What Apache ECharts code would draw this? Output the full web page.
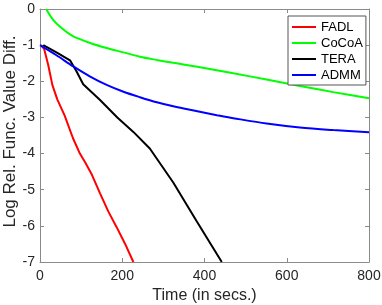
<!DOCTYPE html>
<html>
<head>
<meta charset="utf-8">
<script src="https://cdn.jsdelivr.net/npm/echarts@6/dist/echarts.min.js"></script>
<style>
html,body{margin:0;padding:0;background:#fff;}
#c{width:382px;height:305px;}
</style>
</head>
<body>
<div id="c"></div>
<script>
// Data (x: seconds, y: log rel. func. value diff.)
const seriesNames = ['FADL', 'CoCoA', 'TERA', 'ADMM'];
const fadl = [[2,-1],[10,-1.1],[20,-1.55],[30,-2.1],[42,-2.5],[60,-2.95],[80,-3.57],[97,-4.0],[110,-4.25],[126,-4.58],[146,-5.1],[166,-5.6],[187,-6.05],[207,-6.5],[227,-7]];
const cocoa = [[15,0],[32,-0.3],[57,-0.57],[81,-0.76],[122,-0.94],[162,-1.08],[203,-1.2],[243,-1.32],[284,-1.41],[324,-1.49],[389,-1.61],[470,-1.78],[551,-1.95],[632,-2.13],[713,-2.3],[800,-2.47]];
const tera = [[8,-1],[40,-1.2],[73,-1.42],[89,-1.73],[105,-2.08],[146,-2.52],[188,-3.0],[227,-3.4],[267,-3.86],[324,-4.8],[381,-5.87],[442,-7]];
const admm = [[0,-1],[40,-1.28],[81,-1.59],[122,-1.87],[162,-2.1],[203,-2.29],[243,-2.44],[284,-2.58],[324,-2.69],[365,-2.79],[430,-2.94],[470,-3.02],[551,-3.17],[632,-3.28],[713,-3.35],[800,-3.41]];
const xTicks = {min: 0, max: 800, interval: 200};
const yTicks = {min: -7, max: 0, interval: 1};
const xName = 'Time (in secs.)';
const yName = 'Log Rel. Func. Value Diff.';

const axisGray = '#8a8a8a';
const labelColor = '#262626';
const fontFam = 'Liberation Sans, Arial, sans-serif';

function xAx(pos, show) {
  return {
    type: 'value', position: pos, min: xTicks.min, max: xTicks.max, interval: xTicks.interval,
    axisLine: {show: true, onZero: false, lineStyle: {color: axisGray, width: 1}},
    axisTick: {show: true, inside: true, length: 4, lineStyle: {color: axisGray}},
    axisLabel: {show: show, margin: 7, color: labelColor, fontSize: 14, fontFamily: fontFam},
    splitLine: {show: false},
    name: show ? xName : '', nameLocation: 'middle', nameGap: 26, nameMoveOverlap: false,
    nameTextStyle: {color: labelColor, fontSize: 16, fontFamily: fontFam}
  };
}
function yAx(pos, show) {
  return {
    type: 'value', position: pos, min: yTicks.min, max: yTicks.max, interval: yTicks.interval,
    axisLine: {show: true, onZero: false, lineStyle: {color: axisGray, width: 1}},
    axisTick: {show: true, inside: true, length: 4, lineStyle: {color: axisGray}},
    axisLabel: {show: show, margin: 5, color: labelColor, fontSize: 14, fontFamily: fontFam},
    splitLine: {show: false},
    name: show ? yName : '', nameLocation: 'middle', nameGap: 21, nameMoveOverlap: false,
    nameTextStyle: {color: labelColor, fontSize: 17, fontFamily: fontFam, padding: [0, 0, 0, 8]}
  };
}
const colors = ['#ff0000', '#00ff00', '#000000', '#0000ff'];
const datas = [fadl, cocoa, tera, admm];
const smooths = [false, 0.3, false, 0.3];

const chart = echarts.init(document.getElementById('c'), null, {renderer: 'canvas'});
chart.setOption({
  animation: false,
  backgroundColor: '#ffffff',
  grid: {left: 40, right: 13, top: 9, bottom: 43, containLabel: false, outerBoundsMode: 'none'},
  xAxis: [xAx('bottom', true), xAx('top', false)],
  yAxis: [yAx('left', true), yAx('right', false)],
  legend: {
    orient: 'vertical', left: 288, top: 16,
    padding: [4, 3, 3, 4], itemGap: 2, itemWidth: 24, itemHeight: 2,
    backgroundColor: '#ffffff', borderColor: '#555555', borderWidth: 1,
    textStyle: {color: '#000', fontSize: 13, fontFamily: fontFam, lineHeight: 14},
    data: seriesNames.map(n => ({name: n, icon: 'rect'}))
  },
  series: seriesNames.map((n, i) => ({
    name: n, type: 'line', data: datas[i], xAxisIndex: 0, yAxisIndex: 0,
    symbol: 'none', smooth: smooths[i], clip: true,
    lineStyle: {color: colors[i], width: 2}, itemStyle: {color: colors[i]}
  }))
});
</script>
</body>
</html>
